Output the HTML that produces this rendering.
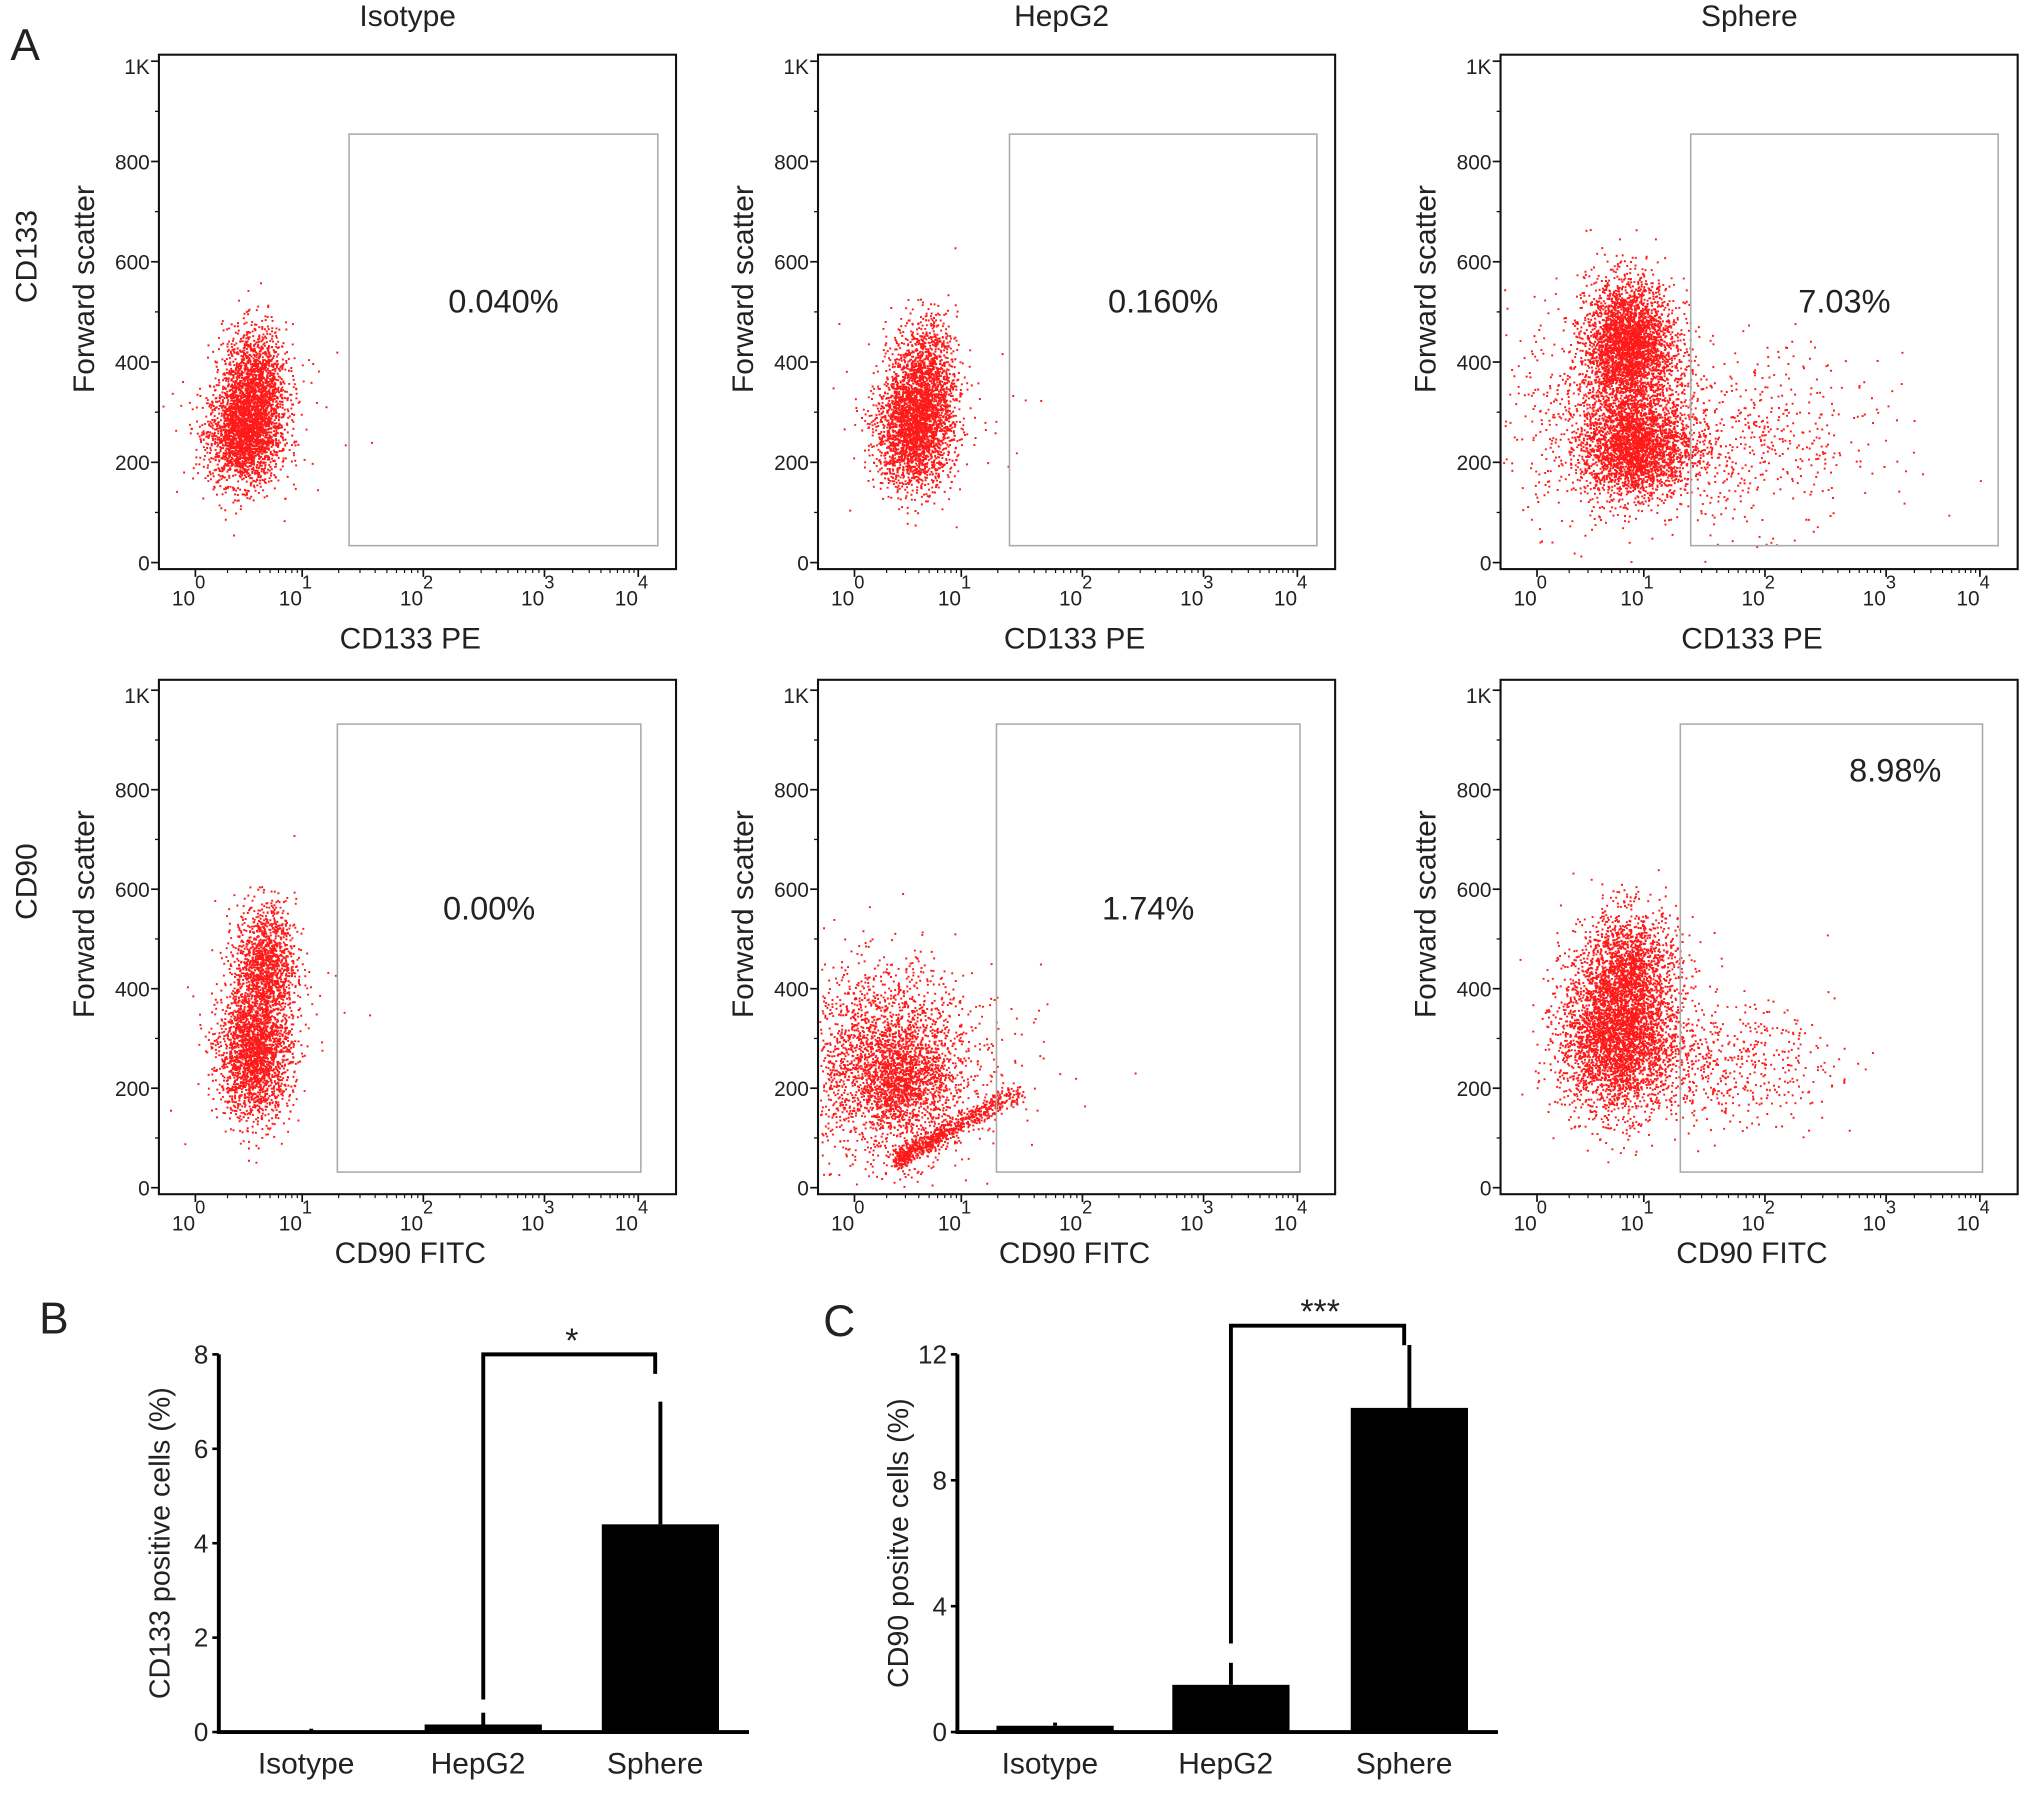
<!DOCTYPE html>
<html><head><meta charset="utf-8"><style>
html,body{margin:0;padding:0;background:#fff}
svg{display:block}
text{font-family:"Liberation Sans",sans-serif;fill:#222}
</style></head><body>
<svg id="fig" width="2032" height="1818" viewBox="0 0 1560 1396" preserveAspectRatio="none" xmlns="http://www.w3.org/2000/svg">
<g id="flow"></g>
<g id="bars"></g>
</svg>
<script>
// ---- Flow cytometry data ----
const colTitles = ["Isotype", "HepG2", "Sphere"];
const rowLabels = ["CD133", "CD90"];
const xAxisLabels = ["CD133 PE", "CD90 FITC"];
const gateValues = [["0.040%", "0.160%", "7.03%"], ["0.00%", "1.74%", "8.98%"]];
const fscTicks = [0, 200, 400, 600, 800, 1000];
const fscTickLabels = ["0", "200", "400", "600", "800", "1K"];
const decades = [0, 1, 2, 3, 4];
// clusters: [log10 fluorescence, FSC, sd log, sd FSC, count]
const clusters = [
 [[[0.45,255,0.17,50,2200],[0.55,360,0.15,55,1300],[0.6,300,0.4,90,60]],
  [[0.55,260,0.18,55,2200],[0.65,370,0.15,60,1200],[0.8,300,0.5,90,50]],
  [[0.85,430,0.2,65,3200],[0.9,230,0.25,50,2600],[0.7,300,0.5,110,700],[1.75,240,0.6,85,600]]],
 [[[0.55,270,0.17,65,2200],[0.65,450,0.14,60,1300],[0.5,350,0.4,110,60]],
  [[0.3,250,0.4,95,2400],[0.45,210,0.22,45,800],[1.2,250,0.5,80,60]],
  [[0.75,300,0.27,75,3400],[0.85,440,0.22,60,1500],[1.65,250,0.45,60,550]]]
];
// diagonal stream in HepG2 CD90: [startLog, startFSC, endLog, endFSC, count]
const streams = [[[],[],[]],[[],[[0.4,55,1.45,190,800]],[]]];

const panelLeft = [122, 628, 1152];
const panelTop = [42, 522];
const PW = 397, PH = 395;
const decadeOffsets = [28, 110, 203, 296, 368];

const NS = "http://www.w3.org/2000/svg";
function mk(tag, attrs, parent, txt){
  const e = document.createElementNS(NS, tag);
  for (const k in attrs) e.setAttribute(k, attrs[k]);
  if (txt !== undefined) e.textContent = txt;
  parent.appendChild(e);
  return e;
}
let seed = 12345;
function rnd(){ seed = (seed * 1103515245 + 12345) % 2147483648; return seed / 2147483648; }
function gauss(){ let u = rnd() || 1e-9, v = rnd(); return Math.sqrt(-2*Math.log(u))*Math.cos(2*Math.PI*v); }

const flow = document.getElementById('flow');
for (let r = 0; r < 2; r++) for (let c = 0; c < 3; c++) {
  const L = panelLeft[c], T = panelTop[r];
  const y0 = T + 390, ppu = (r === 0 ? 0.385 : 0.382);
  const fy = v => y0 - v * ppu;
  const fx = lg => {
    if (lg <= 0) return L + decadeOffsets[0] + lg * 82;
    if (lg >= 4) return L + decadeOffsets[4];
    const i = Math.floor(lg), f = lg - i;
    return L + decadeOffsets[i] + f * (decadeOffsets[i+1] - decadeOffsets[i]);
  };
  const g = mk('g', {}, flow);
  
  
  let d = "";
  clusters[r][c].forEach(cl => {
    for (let i = 0; i < cl[4]; i++) {
      const x = fx(cl[0] + gauss()*cl[2]), y = fy(cl[1] + gauss()*cl[3]);
      if (x > L+1 && x < L+PW-1 && y > T+1 && y < y0) d += "M" + x.toFixed(1) + " " + y.toFixed(1) + "h1.5";
    }
  });
  streams[r][c].forEach(s => {
    for (let i = 0; i < s[4]; i++) {
      const t = Math.pow(rnd(), 1.3);
      const x = fx(s[0] + t*(s[2]-s[0]) + gauss()*0.05), y = fy(s[1] + t*(s[3]-s[1]) + gauss()*10);
      if (x > L+1 && y < y0) d += "M" + x.toFixed(1) + " " + y.toFixed(1) + "h1.5";
    }
  });
  const pts = mk('path', {d: d, stroke: '#ff1a1a', 'stroke-width': 1.5, fill: 'none'}, g);
  
  
  const fr = mk('rect', {x: L, y: T, width: PW, height: PH, fill: 'none', stroke: '#111', 'stroke-width': 1.6}, g);
  
  
  const gx1 = r === 0 ? [268,775,1298][c] : [259,765,1290][c];
  const gx2 = r === 0 ? [505,1011,1534][c] : [492,998,1522][c];
  const gy1 = r === 0 ? 103 : 556, gy2 = r === 0 ? 419 : 900;
  const gate = mk('rect', {x: gx1, y: gy1, width: gx2-gx1, height: gy2-gy1, fill: 'none', stroke: '#aaa', 'stroke-width': 1.2}, g);
  
  
  const gtx = (r === 1 && c === 2) ? 1455 : (gx1 + gx2)/2;
  const gty = r === 0 ? 240 : ((c === 2) ? 600 : 706);
  const gt = mk('text', {x: gtx, y: gty, 'text-anchor': 'middle', 'font-size': 25}, g, gateValues[r][c]);
  
  
  fscTicks.forEach((v, i) => {
    mk('line', {x1: L-6, x2: L, y1: fy(v), y2: fy(v), stroke: '#111', 'stroke-width': 1.3}, g);
    if (i < 5) mk('line', {x1: L-3, x2: L, y1: fy(v+100), y2: fy(v+100), stroke: '#111', 'stroke-width': 1}, g);
    const tl = mk('text', {x: L-7, y: fy(v) + 6 + (i === 5 ? 4 : 0), 'text-anchor': 'end', 'font-size': 16}, g, fscTickLabels[i]);
    
    
  });
  decades.forEach(k => {
    const x = fx(k);
    mk('line', {x1: x, x2: x, y1: T+PH, y2: T+PH+6, stroke: '#111', 'stroke-width': 1.3}, g);
    if (k < 4) for (let m = 2; m < 10; m++) {
      const xm = fx(k + Math.log10(m));
      mk('line', {x1: xm, x2: xm, y1: T+PH, y2: T+PH+3, stroke: '#111', 'stroke-width': 0.9}, g);
    }
    const tl = mk('text', {x: x - 18, y: T+PH+28, 'font-size': 16}, g, "10");
    mk('tspan', {dy: -13, 'font-size': 14}, tl, String(k));
    
    
  });
  const yl = mk('text', {x: 0, y: 0, 'text-anchor': 'middle', 'font-size': 23, transform: `translate(${L-50},${T+180}) rotate(-90)`}, g, "Forward scatter");
  
  
  const xl = mk('text', {x: L + 193 + (c===1?4:0), y: T + 456 + (r===1?-8:0), 'text-anchor': 'middle', 'font-size': 23}, g, xAxisLabels[r]);
  
  
  if (r === 0) {
    const ct = mk('text', {x: [313,815,1343][c], y: 20, 'text-anchor': 'middle', 'font-size': 23}, g, colTitles[c]);
    
    
  }
  if (c === 0) {
    const rl = mk('text', {x: 0, y: 0, 'text-anchor': 'middle', 'font-size': 23, transform: `translate(28,${T+155}) rotate(-90)`}, g, rowLabels[r]);
    
    
  }
}
const la = mk('text', {x: 8, y: 46, 'font-size': 34}, flow, "A");



// ---- Bar chart data ----
const categories = ["Isotype", "HepG2", "Sphere"];
const cd133Values = [0.02, 0.16, 4.4];
const cd133Errors = [0.05, 0.25, 2.6];
const cd90Values = [0.2, 1.5, 10.3];
const cd90Errors = [0.1, 0.7, 2.0];
const bTicks = [0, 2, 4, 6, 8];
const cTicks = [0, 4, 8, 12];

const bars = document.getElementById('bars');
function barChart(opt){
  const g = mk('g', {}, bars);
  
  
  const y = v => opt.y0 - (v / opt.max) * (opt.y0 - opt.yTop);
  opt.values.forEach((v, i) => {
    const cx = opt.centers[i];
    const e = mk('line', {x1: cx, x2: cx, y1: y(v), y2: y(v + opt.errors[i]), stroke: '#000', 'stroke-width': 3}, g);
    
    
    const b = mk('rect', {x: cx - 45, y: y(v), width: 90, height: opt.y0 - y(v), fill: '#000'}, g);
    
    
    const t = mk('text', {x: cx - 4, y: opt.y0 + 32, 'text-anchor': 'middle', 'font-size': 23}, g, categories[i]);
    
    
  });
  const ax = mk('path', {d: `M${opt.ax} ${opt.yTop} V${opt.y0} H${opt.xEnd}`, stroke: '#000', 'stroke-width': 3, fill: 'none'}, g);
  
  
  opt.ticks.forEach(t => {
    mk('line', {x1: opt.ax - 5, x2: opt.ax, y1: y(t), y2: y(t), stroke: '#000', 'stroke-width': 2}, g);
    const tl = mk('text', {x: opt.ax - 8, y: y(t) + 7, 'text-anchor': 'end', 'font-size': 20}, g, String(t));
    
    
  });
  const yl = mk('text', {x: 0, y: 0, 'text-anchor': 'middle', 'font-size': 22, transform: `translate(${opt.ax - 38},${(opt.y0 + opt.yTop)/2}) rotate(-90)`}, g, opt.ylabel);
  
  
  const br = mk('path', {d: `M${opt.centers[1]} ${opt.brFrom} V${opt.brTop} H${opt.centers[2]-4} V${opt.brTop+15}`, stroke: '#000', 'stroke-width': 3, fill: 'none'}, g);
  
  
  const st = mk('text', {x: (opt.centers[1] + opt.centers[2])/2, y: opt.brTop - 2, 'text-anchor': 'middle', 'font-size': 26}, g, opt.star);
  
  
  const pl = mk('text', {x: opt.lx, y: opt.ly, 'font-size': 34}, g, opt.letter);
  
  
}
barChart({name: 'cd133-bar-chart', values: cd133Values, errors: cd133Errors, ticks: bTicks, max: 8, y0: 1330, yTop: 1040, ax: 168, xEnd: 575, centers: [239, 371, 507], ylabel: "CD133 positive cells (%)", brFrom: 1305, brTop: 1040, star: "*", letter: "B", lx: 30, ly: 1024});
barChart({name: 'cd90-bar-chart', values: cd90Values, errors: cd90Errors, ticks: cTicks, max: 12, y0: 1330, yTop: 1040, ax: 735, xEnd: 1150, centers: [810, 945, 1082], ylabel: "CD90 positve cells (%)", brFrom: 1262, brTop: 1018, star: "***", letter: "C", lx: 632, ly: 1026});
</script>
</body></html>
